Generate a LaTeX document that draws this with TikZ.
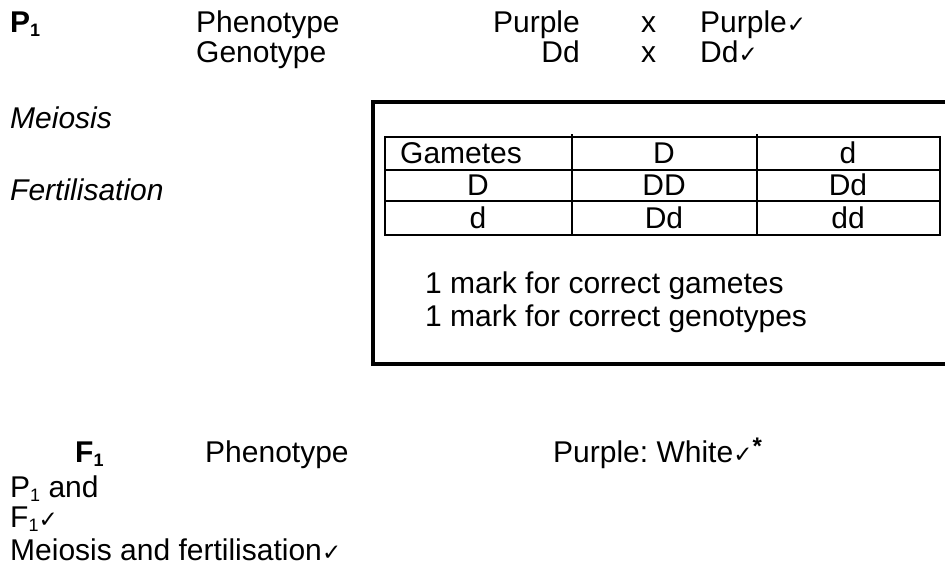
\documentclass[tikz,border=0pt]{standalone}
\usepackage{fontspec}
\setmainfont{Liberation Sans}
\newfontfamily\symfont{DejaVu Sans}
\newcommand{\mysub}[1]{\raisebox{-0.3ex}{\fontsize{18}{18}\selectfont #1}}
\newcommand{\tick}{{\symfont\fontsize{23}{23}\selectfont ✓}}
\frenchspacing
\begin{document}
\begin{tikzpicture}[x=1pt,y=-1pt,
  txt/.style={inner sep=0pt,anchor=base west,font=\fontsize{30}{34}\selectfont},
  txtr/.style={txt,anchor=base east},
  cell/.style={inner sep=0pt,anchor=base,font=\fontsize{30}{34}\selectfont},
  frame/.style={line width=4pt},
  grid/.style={line width=2pt}]
\useasboundingbox (0,0) rectangle (945,565);
% header
\node[txt] (p1) at (10,32) {\textbf{P\mysub{1}}};
\node[txt] (phen) at (196,32) {Phenotype};
\node[txtr] (pp1) at (580,32) {Purple};
\node[txt] (x1) at (641,32) {x};
\node[txt] (pp2) at (700,32) {Purple\tick};
\node[txt] (gen) at (196,62) {Genotype};
\node[txtr] (dd1) at (580,62) {Dd};
\node[txt] (x2) at (641,62) {x};
\node[txt] (dd2) at (700,62) {Dd\tick};
\node[txt] (mei) at (10,128) {\itshape Meiosis};
\node[txt] (fer) at (10,200) {\itshape Fertilisation};
% frame
\coordinate (fa) at (950,102);
\coordinate (fb) at (373,102);
\coordinate (fc) at (373,364);
\coordinate (fd) at (950,364);
\draw[frame] (fa) -- (fb) -- (fc) -- (fd);
% table
\coordinate (t00) at (385,137);
\coordinate (t11) at (940,235);
\draw[grid] (t00) rectangle (t11);
\draw[grid] (385,170) -- (940,170);
\draw[grid] (385,201) -- (940,201);
\draw[grid] (572,134) -- (572,235);
\draw[grid] (757,134) -- (757,235);
\node[txt] (gam) at (400,163) {Gametes};
\node[cell] (hD) at (664,163) {D};
\node[cell] (hd) at (848,163) {d};
\node[cell] (rD) at (478,195) {D};
\node[cell] (DD) at (664,195) {DD};
\node[cell] (Dd1) at (848,195) {Dd};
\node[cell] (rd) at (478,228) {d};
\node[cell] (Dd2) at (664,228) {Dd};
\node[cell] (ddd) at (848,228) {dd};
\node[txt] (m1) at (425,293) {1 mark for correct gametes};
\node[txt] (m2) at (425,326) {1 mark for correct genotypes};
% bottom
\node[txt] (f1) at (75,462) {\textbf{F\mysub{1}}};
\node[txt] (phen2) at (205,462) {Phenotype};
\node[txt] (pw) at (553,462) {Purple: White\tick\raisebox{0.45ex}{\fontsize{24}{24}\selectfont\textbf{*}}};
\node[txt] (pand) at (10,497) {P\mysub{1} and};
\node[txt] (f1t) at (10,527) {F\mysub{1}\tick};
\node[txt] (mf) at (10,560) {Meiosis and fertilisation\tick};
\end{tikzpicture}
\end{document}
